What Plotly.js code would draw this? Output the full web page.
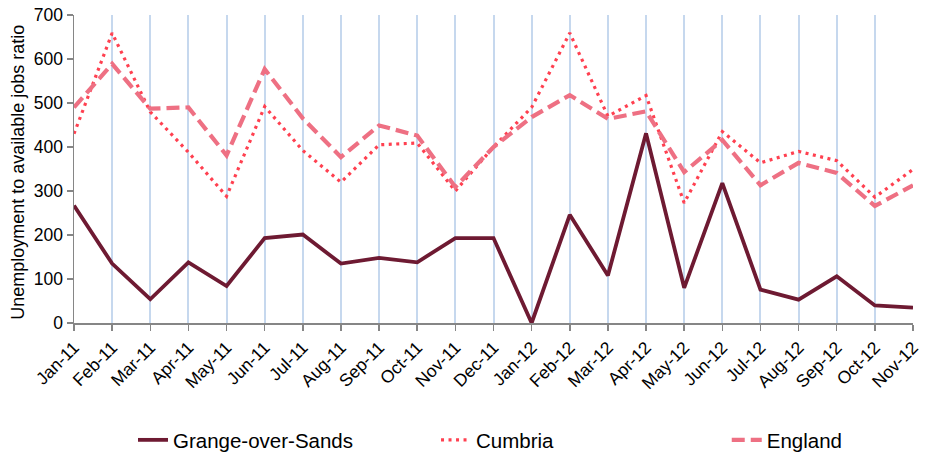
<!DOCTYPE html>
<html>
<head>
<meta charset="utf-8">
<script src="https://cdn.plot.ly/plotly-3.0.1.min.js"></script>
<style>
html,body{margin:0;padding:0;background:#fff;}
#chart{width:932px;height:454px;}
</style>
</head>
<body>
<div id="chart"></div>
<script>
const months = ["Jan-11","Feb-11","Mar-11","Apr-11","May-11","Jun-11","Jul-11","Aug-11","Sep-11","Oct-11","Nov-11","Dec-11",
                "Jan-12","Feb-12","Mar-12","Apr-12","May-12","Jun-12","Jul-12","Aug-12","Sep-12","Oct-12","Nov-12"];
const grange = [267,135,54,138,84,193,201,135,148,138,193,193,0,246,108,431,80,318,76,53,106,40,35];
const cumbria = [430,659,480,388,288,492,392,320,405,409,300,400,490,659,470,517,273,435,364,390,369,286,349];
const england = [490,589,487,490,381,577,465,377,449,426,309,400,468,518,464,481,343,416,313,364,341,266,313];
const yTitle = "Unemployment to available jobs ratio";
const FONT = "Liberation Sans, Arial, sans-serif";

const traces = [
  {x: months, y: grange, name: "Grange-over-Sands", type: "scatter", mode: "lines", legend: "legend",
   line: {color: "#6E1A32", width: 3.8}},
  {x: months, y: cumbria, name: "Cumbria", type: "scatter", mode: "lines", legend: "legend2",
   line: {color: "#FF4050", width: 3.2, dash: "3px,4.5px"}},
  {x: months, y: england, name: "England", type: "scatter", mode: "lines", legend: "legend3",
   line: {color: "#EE7083", width: 4.2, dash: "13px,6px"}}
];

function leg(x) {
  return {orientation: "h", x: x, y: -0.38, xanchor: "left", yanchor: "middle",
          font: {family: FONT, size: 20.5, color: "#000"}, bgcolor: "rgba(0,0,0,0)"};
}

const layout = {
  width: 932, height: 454,
  margin: {l: 74, r: 19, t: 15, b: 131, autoexpand: false},
  paper_bgcolor: "#fff", plot_bgcolor: "#fff",
  font: {family: FONT, color: "#000"},
  showlegend: true,
  legend: leg(0.0703),
  legend2: leg(0.4315),
  legend3: leg(0.778),
  xaxis: {type: "category", range: [0, months.length - 1], showgrid: true, gridcolor: "#C6D8EE", gridwidth: 2,
          showline: true, linecolor: "#868686", linewidth: 1.5, ticks: "outside", tickcolor: "#868686",
          ticklen: 6, tickwidth: 1.5, tickangle: -45, tickfont: {family: FONT, size: 17.5, color: "#000"},
          zeroline: false, fixedrange: true, automargin: false},
  yaxis: {range: [0, 700], dtick: 100, tick0: 0, showgrid: false, zeroline: false,
          showline: true, linecolor: "#868686", linewidth: 1.5, ticks: "outside", tickcolor: "#868686",
          ticklen: 6, tickwidth: 1.5, tickfont: {family: FONT, size: 17.5, color: "#000"}, fixedrange: true,
          automargin: false},
  annotations: [{text: yTitle, textangle: -90, xref: "paper", yref: "paper",
                 x: -0.067, y: 0.49, xanchor: "center", yanchor: "middle", showarrow: false,
                 font: {family: FONT, size: 18, color: "#000"}}]
};

Plotly.newPlot("chart", traces, layout, {displayModeBar: false, staticPlot: true});
</script>
</body>
</html>
